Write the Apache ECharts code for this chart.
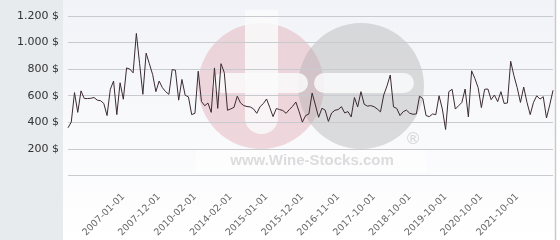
<!DOCTYPE html>
<html><head><meta charset="utf-8">
<script src="https://cdn.jsdelivr.net/npm/echarts@6/dist/echarts.min.js"></script>
<style>html,body{margin:0;padding:0;background:#fff}#c{width:560px;height:240px}</style>
</head><body><div id="c"></div>
<script>
const categories = [
 '2005-08-01','2005-09-01','2005-10-01','2005-11-01','2005-12-01',
 '2006-01-01','2006-02-01','2006-03-01','2006-04-01','2006-05-01','2006-06-01','2006-07-01','2006-08-01','2006-09-01','2006-10-01','2006-11-01','2006-12-01',
 '2007-01-01','2007-02-01','2007-03-01','2007-04-01','2007-05-01','2007-06-01','2007-07-01','2007-08-01','2007-09-01','2007-10-01','2007-11-01','2007-12-01',
 '2008-02-01','2008-04-01','2008-07-01','2008-09-01','2008-12-01','2009-03-01','2009-05-01','2009-08-01','2009-10-01','2009-12-01',
 '2010-02-01',
 '2010-06-01','2010-11-01','2011-03-01','2011-08-01','2012-01-01','2012-05-01','2012-10-01','2013-03-01','2013-07-01','2013-11-01',
 '2014-02-01',
 '2014-03-01','2014-04-01','2014-05-01','2014-06-01','2014-07-01','2014-08-01','2014-09-01','2014-10-01','2014-11-01','2014-12-01','2015-01-01',
 '2015-02-01','2015-03-01','2015-04-01','2015-05-01','2015-06-01','2015-07-01','2015-08-01','2015-09-01','2015-10-01','2015-11-01','2015-12-01',
 '2016-01-01','2016-02-01','2016-03-01','2016-04-01','2016-05-01','2016-06-01','2016-07-01','2016-08-01','2016-09-01','2016-10-01','2016-11-01',
 '2016-12-01','2017-01-01','2017-02-01','2017-03-01','2017-04-01','2017-05-01','2017-06-01','2017-07-01','2017-08-01','2017-09-01','2017-10-01',
 '2017-11-01','2017-12-01','2018-02-01','2018-03-01','2018-04-01','2018-05-01','2018-06-01','2018-07-01','2018-08-01','2018-09-01','2018-10-01',
 '2018-11-01','2018-12-01','2019-02-01','2019-03-01','2019-04-01','2019-05-01','2019-06-01','2019-07-01','2019-08-01','2019-09-01','2019-10-01',
 '2019-11-01','2019-12-01','2020-02-01','2020-03-01','2020-04-01','2020-05-01','2020-06-01','2020-07-01','2020-08-01','2020-09-01','2020-10-01',
 '2020-11-01','2020-12-01','2021-02-01','2021-03-01','2021-04-01','2021-05-01','2021-06-01','2021-07-01','2021-08-01','2021-09-01','2021-10-01',
 '2021-11-01','2021-12-01','2022-02-01','2022-03-01','2022-04-01','2022-05-01','2022-06-01','2022-07-01','2022-08-01','2022-09-01','2022-10-01'
];
const prices = [
 358,400,623,474,636,578,578,580,586,566,
 562,541,450,648,710,457,697,573,809,800,
 772,1069,840,610,920,840,759,630,710,660,
 630,610,796,792,566,722,603,591,457,467,
 784,556,524,544,474,809,504,841,775,490,
 500,512,596,545,525,518,515,500,467,517,
 540,575,510,442,503,495,488,467,495,520,
 552,480,400,450,462,620,530,437,505,491,
 406,470,490,495,517,470,480,440,586,515,
 630,535,521,525,517,500,478,605,673,755,
 515,504,450,480,491,467,460,462,596,578,
 450,442,462,457,599,499,345,630,648,499,
 524,549,650,440,787,730,660,510,648,650,
 570,605,555,630,541,545,859,750,660,549,
 665,550,457,549,599,574,592,432,530,640
];
const tickLabels = ['2007-01-01','2007-12-01','2010-02-01','2014-02-01','2015-01-01','2015-12-01','2016-11-01','2017-10-01','2018-10-01','2019-10-01','2020-10-01','2021-10-01'];
const yMin = 0, yMax = 1200, yStep = 200;
const watermarkText = 'www.Wine-Stocks.com';

function fmt(v){
  if (v === 0) return '';
  if (v >= 1000) return Math.floor(v/1000) + '.' + String(v%1000).padStart(3,'0') + ' $';
  return v + ' $';
}

const chart = echarts.init(document.getElementById('c'), null, {renderer:'canvas'});
chart.setOption({
  animation:false,
  backgroundColor: new echarts.graphic.LinearGradient(0,0,0,1,[{offset:0,color:'#f2f3f8'},{offset:1,color:'#ffffff'}]),
  grid:{left:68, right:7, top:16, bottom:62, zlevel:1, z:5},
  graphic:{
    zlevel:0,
    elements:[
    {type:'rect', silent:true, shape:{x:0,y:0,width:63,height:240}, style:{fill:'#e7ebee'}},
    {type:'rect', silent:true, shape:{x:556,y:0,width:4,height:240}, style:{fill:'#ffffff'}},
    {type:'line', silent:true, shape:{x1:555.5,y1:0,x2:555.5,y2:240}, style:{stroke:'#c9cbce',lineWidth:1.5}},
    {type:'circle', silent:true, shape:{cx:261,cy:86,r:63}, style:{fill:'rgba(218,148,160,0.35)'}},
    {type:'circle', silent:true, shape:{cx:361,cy:86,r:63}, style:{fill:'rgba(167,168,168,0.38)'}},
    {type:'rect', silent:true, shape:{x:245,y:10,width:33,height:124,r:[0,0,16,16]}, style:{fill:'rgba(250,250,252,0.85)'}},
    {type:'rect', silent:true, shape:{x:212,y:73,width:96,height:20,r:10}, style:{fill:'rgba(250,250,252,0.85)'}},
    {type:'rect', silent:true, shape:{x:314,y:73,width:100,height:20,r:10}, style:{fill:'rgba(250,250,252,0.85)'}},
    {type:'rect', silent:true, shape:{x:196,y:150,width:230,height:22}, style:{fill:'rgba(255,255,255,0.5)'}},
    {type:'text', silent:true, x:312, y:161, style:{text:watermarkText, fill:'#dcdcde', font:'bold 15px "Liberation Sans"', align:'center', verticalAlign:'middle'}},
    {type:'text', silent:true, x:413, y:140, style:{text:'®', fill:'#d6d6d8', font:'16px "DejaVu Sans"', align:'center', verticalAlign:'middle'}}
    ]
  },
  xAxis:{
    type:'category', data:categories, boundaryGap:false, zlevel:1, z:5,
    axisLine:{show:false}, axisTick:{show:false}, splitLine:{show:false},
    axisLabel:{rotate:45, interval:(i,v)=>tickLabels.includes(v), fontSize:9.5, color:'#666', margin:20, fontFamily:'DejaVu Sans'}
  },
  yAxis:{
    type:'value', min:yMin, max:yMax, interval:yStep, zlevel:1, z:5,
    axisLine:{show:false}, axisTick:{show:false},
    axisLabel:{formatter:fmt, fontSize:11, color:'#333', margin:9, fontFamily:'DejaVu Sans'},
    splitLine:{show:true, lineStyle:{color:'#c9cad0', width:1}}
  },
  series:[{type:'line', data:prices, showSymbol:false, symbol:'none', zlevel:1, z:6, lineStyle:{color:'#3b2a31', width:1}}]
});
</script></body></html>
